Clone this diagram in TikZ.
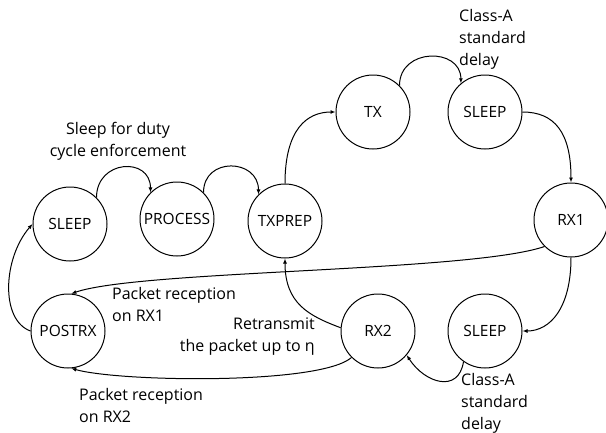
\documentclass[tikz,border=0pt]{standalone}
\usepackage{fontspec}
\setmainfont{Open Sans}
\usetikzlibrary{arrows.meta}
\begin{document}
\begin{tikzpicture}[x=1pt,y=-1pt,
  state/.style={draw, circle, minimum size=74pt, inner sep=0pt, line width=1pt,
                font=\fontsize{15.5}{19}\selectfont},
  link/.style={line width=1pt, -{Latex[length=5pt,width=4pt]}},
  lbl/.style={font=\fontsize{16}{22}\selectfont, inner sep=0pt}]
\useasboundingbox (0,0) rectangle (606,432);

% states
\node[state] (sleepA) at (70,224)  {SLEEP};
\node[state] (process) at (177,219) {PROCESS};
\node[state] (txprep) at (285,221) {TXPREP};
\node[state] (tx)     at (373,112) {TX};
\node[state] (sleepB) at (485,112) {SLEEP};
\node[state] (rx1)    at (571,220) {RX1};
\node[state] (postrx) at (68,331)  {POSTRX};
\node[state] (rx2)    at (378,331) {RX2};
\node[state] (sleepC) at (485,331) {SLEEP};

% transitions
\draw[link] (sleepA.45) .. controls +(0,-38) and +(0,-36) .. (process.135);
\draw[link] (process.45) .. controls +(0,-36) and +(0,-36) .. (txprep.135);
\draw[link] (txprep.north) .. controls +(0,-55) and +(-28,0) .. (tx.west);
\draw[link] (tx.45) .. controls +(0,-38) and +(0,-36) .. (sleepB.130);
\draw[link] (sleepB.east) .. controls +(32,0) and +(0,-50) .. (rx1.north);
\draw[link] (rx1.225) .. controls (470,272) and (140,270) .. (postrx.85);
\draw[link] (rx1.south) .. controls +(0,50) and +(28,0) .. (sleepC.east);
\draw[link] (sleepC.235) .. controls +(-5,32) and +(18,28) .. (rx2.-40);
\draw[link] (rx2.175) .. controls +(-32,-12) and +(0,45) .. (txprep.south);
\draw[link] (rx2.225) .. controls (320,385) and (120,382) .. (postrx.-85);
\draw[link] (postrx.west) .. controls (0,320) and (3,258) .. (sleepA.west);

% transition labels
\node[lbl, align=center] (lsleep) at (118,141) {Sleep for duty\\cycle enforcement};
\node[lbl, align=left, anchor=west] (ldelayA) at (459,39) {Class-A\\standard\\delay};
\node[lbl, align=left, anchor=west] (ldelayB) at (461,403) {Class-A\\standard\\delay};
\node[lbl, align=left, anchor=west] (lrx1) at (112,304) {Packet reception\\on RX1};
\node[lbl, align=left, anchor=west] (lrx2) at (79,405) {Packet reception\\on RX2};
\node[lbl, align=right, anchor=east] (lretx) at (315,337) {Retransmit\\the packet up to η};
\end{tikzpicture}
\end{document}
